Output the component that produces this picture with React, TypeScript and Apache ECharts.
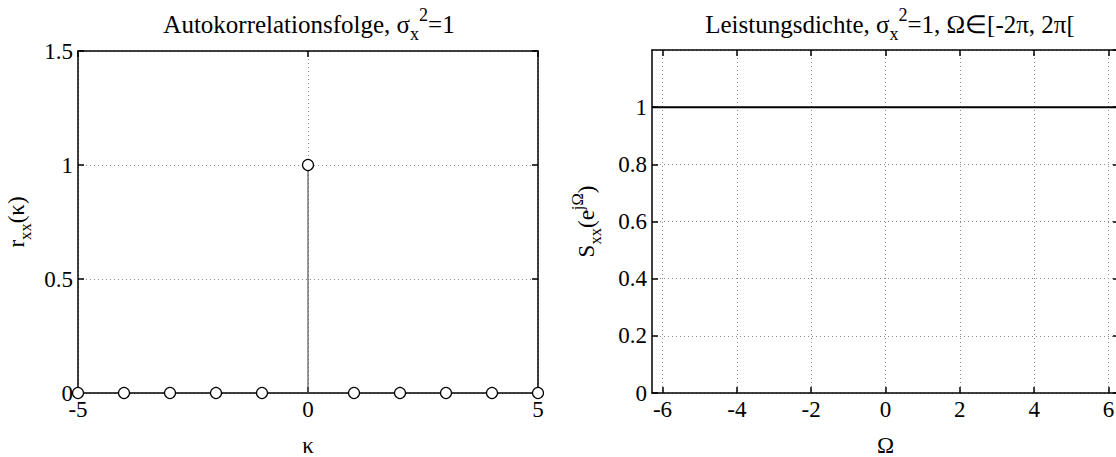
import React, { useEffect, useRef } from 'react';
import * as echarts from 'echarts';

// Left plot: autocorrelation sequence (stem plot)
const kappa = [-5, -4, -3, -2, -1, 0, 1, 2, 3, 4, 5];
const rxx = [0, 0, 0, 0, 0, 1, 0, 0, 0, 0, 0];
const leftXTicks = [-5, 0, 5];

// Right plot: power spectral density over [-2π, 2π[
const omega = [-2 * Math.PI, 2 * Math.PI];
const sxx = [1, 1];
const rightXTicks = [-6, -4, -2, 0, 2, 4, 6];

const leftTitle = '{n|Autokorrelationsfolge, σ}{s|x}{p|2}{n|=1}';
const rightTitle = '{n|Leistungsdichte, σ}{s|x}{p|2}{n|=1, Ω∈[-2π, 2π[}';
const leftYName = '{n|r}{s|xx}{n|(κ)}';
const rightYName = '{n|S}{s|xx}{n|(e}{p|jΩ}{n|)}';
const leftXName = 'κ';
const rightXName = 'Ω';

const FONT = 'Liberation Serif';

const richName = (size: number) => ({
  n: { fontSize: size, fontFamily: FONT, color: '#000', fill: '#000', lineHeight: size + 12 },
  s: { fontSize: size * 0.72, fontFamily: FONT, color: '#000', fill: '#000', verticalAlign: 'bottom', lineHeight: size * 0.72 },
  p: { fontSize: size * 0.72, fontFamily: FONT, color: '#000', fill: '#000', verticalAlign: 'top', lineHeight: size * 0.72 },
});

const lineStyleAxis = { color: '#000', width: 1.5 };
const splitStyle = { show: true, lineStyle: { color: '#8a8a8a', width: 1, type: [1, 3] as any } };
const labelStyle = { color: '#000', fontSize: 23, fontFamily: FONT, margin: 5 };
const nameStyle = { fontSize: 23, fontFamily: FONT, color: '#000', lineHeight: 24 };

export default function App() {
  const ref = useRef<HTMLDivElement>(null);
  useEffect(() => {
    if (!ref.current) return;
    const chart = echarts.init(ref.current, undefined, { renderer: 'svg' });
    const option: any = {
      animation: false,
      backgroundColor: '#fff',
      textStyle: { fontFamily: FONT },
      grid: [
        { left: 78, right: 578, top: 51, bottom: 64, outerBoundsMode: 'none', containLabel: false },
        { left: 652, right: -3, top: 50, bottom: 64, outerBoundsMode: 'none', containLabel: false },
      ],
      graphic: [
        {
          type: 'text', x: 309, y: 24,
          style: { text: leftTitle, rich: richName(25), fontFamily: FONT, fontSize: 25, align: 'center', verticalAlign: 'middle', fill: '#000' },
        },
        {
          type: 'text', x: 890, y: 24,
          style: { text: rightTitle, rich: richName(25), fontFamily: FONT, fontSize: 25, align: 'center', verticalAlign: 'middle', fill: '#000' },
        },
      ],
      xAxis: [
        {
          gridIndex: 0, type: 'value', min: -5, max: 5, interval: 5, position: 'bottom',
          axisLine: { show: true, onZero: false, lineStyle: lineStyleAxis },
          axisTick: { show: true, inside: true, length: 6, lineStyle: lineStyleAxis },
          axisLabel: { ...labelStyle, customValues: leftXTicks },
          splitLine: splitStyle,
          name: leftXName, nameLocation: 'middle', nameGap: 40,
          nameTextStyle: nameStyle,
        },
        {
          gridIndex: 0, type: 'value', min: -5, max: 5, interval: 5, position: 'top',
          axisLine: { show: true, onZero: false, lineStyle: lineStyleAxis },
          axisTick: { show: true, inside: true, length: 6, lineStyle: lineStyleAxis },
          axisLabel: { show: false },
          splitLine: { show: false },
        },
        {
          gridIndex: 1, type: 'value', min: -2 * Math.PI, max: 2 * Math.PI, position: 'bottom',
          axisLine: { show: true, onZero: false, lineStyle: lineStyleAxis },
          axisTick: { show: true, inside: true, length: 6, lineStyle: lineStyleAxis, customValues: rightXTicks },
          axisLabel: { ...labelStyle, customValues: rightXTicks },
          splitLine: splitStyle,
          name: rightXName, nameLocation: 'middle', nameGap: 40,
          nameTextStyle: nameStyle,
        },
        {
          gridIndex: 1, type: 'value', min: -2 * Math.PI, max: 2 * Math.PI, position: 'top',
          axisLine: { show: true, onZero: false, lineStyle: lineStyleAxis },
          axisTick: { show: true, inside: true, length: 6, lineStyle: lineStyleAxis, customValues: rightXTicks },
          axisLabel: { show: false },
          splitLine: { show: false },
        },
      ],
      yAxis: [
        {
          gridIndex: 0, type: 'value', min: 0, max: 1.5, interval: 0.5, position: 'left',
          axisLine: { show: true, onZero: false, lineStyle: lineStyleAxis },
          axisTick: { show: true, inside: true, length: 6, lineStyle: lineStyleAxis },
          axisLabel: labelStyle,
          splitLine: splitStyle,
          name: leftYName, nameLocation: 'middle', nameGap: 44, nameRotate: 90,
          nameTextStyle: { fontFamily: FONT, rich: richName(23) },
        },
        {
          gridIndex: 0, type: 'value', min: 0, max: 1.5, interval: 0.5, position: 'right',
          axisLine: { show: true, onZero: false, lineStyle: lineStyleAxis },
          axisTick: { show: true, inside: true, length: 6, lineStyle: lineStyleAxis },
          axisLabel: { show: false },
          splitLine: { show: false },
        },
        {
          gridIndex: 1, type: 'value', min: 0, max: 1.2, interval: 0.2, position: 'left',
          axisLine: { show: true, onZero: false, lineStyle: lineStyleAxis },
          axisTick: { show: true, inside: true, length: 6, lineStyle: lineStyleAxis },
          axisLabel: { ...labelStyle, showMaxLabel: false },
          splitLine: splitStyle,
          name: rightYName, nameLocation: 'middle', nameGap: 48, nameRotate: 90,
          nameTextStyle: { fontFamily: FONT, rich: richName(23) },
        },
        {
          gridIndex: 1, type: 'value', min: 0, max: 1.2, interval: 0.2, position: 'right',
          axisLine: { show: true, onZero: false, lineStyle: lineStyleAxis },
          axisTick: { show: true, inside: true, length: 6, lineStyle: lineStyleAxis },
          axisLabel: { show: false },
          splitLine: { show: false },
        },
      ],
      series: [
        {
          type: 'custom',
          xAxisIndex: 0, yAxisIndex: 0,
          clip: false,
          encode: { x: 0, y: 1 },
          data: kappa.map((k, i) => [k, rxx[i]]),
          renderItem: (params: any, api: any) => {
            const base = api.coord([api.value(0), 0]);
            const tip = api.coord([api.value(0), api.value(1)]);
            return {
              type: 'group',
              children: [
                { type: 'line', shape: { x1: base[0], y1: base[1], x2: tip[0], y2: tip[1] }, style: { stroke: '#555', lineWidth: 1.2 } },
                { type: 'circle', shape: { cx: tip[0], cy: tip[1], r: 5.5 }, style: { fill: '#fff', stroke: '#000', lineWidth: 1.2 } },
              ],
            };
          },
        },
        {
          type: 'line',
          xAxisIndex: 2, yAxisIndex: 2,
          showSymbol: false,
          data: omega.map((w, i) => [w, sxx[i]]),
          lineStyle: { color: '#000', width: 2 },
        },
      ],
    };
    chart.setOption(option);
    return () => chart.dispose();
  }, []);
  return (
    <div
      ref={ref}
      style={{ position: 'fixed', left: 0, top: 0, width: 1116, height: 457, background: '#fff' }}
    />
  );
}
